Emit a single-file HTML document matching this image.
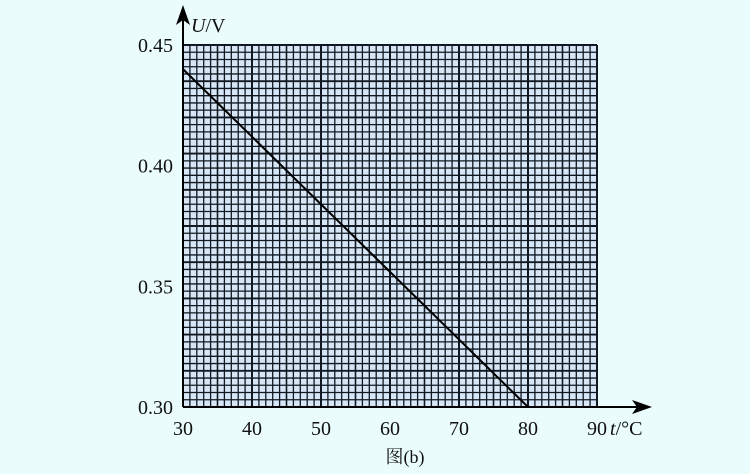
<!DOCTYPE html>
<html><head><meta charset="utf-8"><style>
html,body{margin:0;padding:0;background:#eafcfc;}
svg{display:block;font-family:"Liberation Serif","Noto Serif CJK SC",serif;}
</style></head><body>
<svg width="750" height="474" viewBox="0 0 750 474">
<g id="grid"></g>
<g id="axes"></g>
<g id="marks"></g>
</svg>
<script>
const xTicks=[30,40,50,60,70,80,90];
const yTicks=[0.30,0.35,0.40,0.45];
const yTickLabels=["0.30","0.35","0.40","0.45"];
const lineT=[30,80];
const lineU=[0.44,0.30];
const X0=183,X1=597,Y0=407,Y1=45;
const sx=t=>X0+(t-30)/(90-30)*(X1-X0);
const sy=u=>Y0-(u-0.30)/(0.45-0.30)*(Y0-Y1);
const NS="http://www.w3.org/2000/svg";
function mk(p,tag,a){const e=document.createElementNS(NS,tag);for(const k in a)e.setAttribute(k,a[k]);p.appendChild(e);return e;}
const g=document.getElementById('grid');
const bg=mk(g,'rect',{x:X0,y:Y1,width:X1-X0,height:Y0-Y1,fill:'#d6e6f6'});


for(let i=0;i<=60;i++){const x=sx(30+i);const l=mk(g,'line',{x1:x,x2:x,y1:Y1,y2:Y0,stroke:'#111822','stroke-width':i%10==0?2:(i%5==0?1.6:1.3)});

}
for(let i=0;i<=50;i++){const y=sy(0.30+i*0.003);const l=mk(g,'line',{x1:X0,x2:X1,y1:y,y2:y,stroke:'#111822','stroke-width':i%5==0?1.9:1.3});

}
const a=document.getElementById('axes');
const xa=mk(a,'line',{x1:X0,x2:640,y1:Y0,y2:Y0,stroke:'#000','stroke-width':2});


const xh=mk(a,'path',{d:'M652,407 L632,400 L637,407 L632,414 Z',fill:'#000'});


const ya=mk(a,'line',{x1:X0,x2:X0,y1:Y0,y2:16,stroke:'#000','stroke-width':2});


const yh=mk(a,'path',{d:'M183,5 L176,25 L183,20 L190,25 Z',fill:'#000'});


xTicks.forEach(t=>{const e=mk(a,'text',{x:sx(t),y:435,'text-anchor':'middle','font-size':20,fill:'#111'});e.textContent=t;

});
yTicks.forEach((u,i)=>{const e=mk(a,'text',{x:173,y:sy(u)+7,'text-anchor':'end','font-size':20,fill:'#111'});e.textContent=yTickLabels[i];

});
const yt=mk(a,'text',{x:191,y:32,'font-size':20,fill:'#111'});yt.innerHTML='<tspan font-style="italic">U</tspan>/V';


const xt=mk(a,'text',{x:610,y:435,'font-size':20,fill:'#111'});xt.innerHTML='<tspan font-style="italic">t</tspan>/°C';


const cap=mk(a,'text',{x:405,y:463,'text-anchor':'middle','font-size':18,fill:'#111'});cap.textContent='图(b)';


const m=document.getElementById('marks');
const ln=mk(m,'line',{x1:sx(lineT[0]),y1:sy(lineU[0]),x2:sx(lineT[1]),y2:sy(lineU[1]),stroke:'#000','stroke-width':2});


</script>
</body></html>
